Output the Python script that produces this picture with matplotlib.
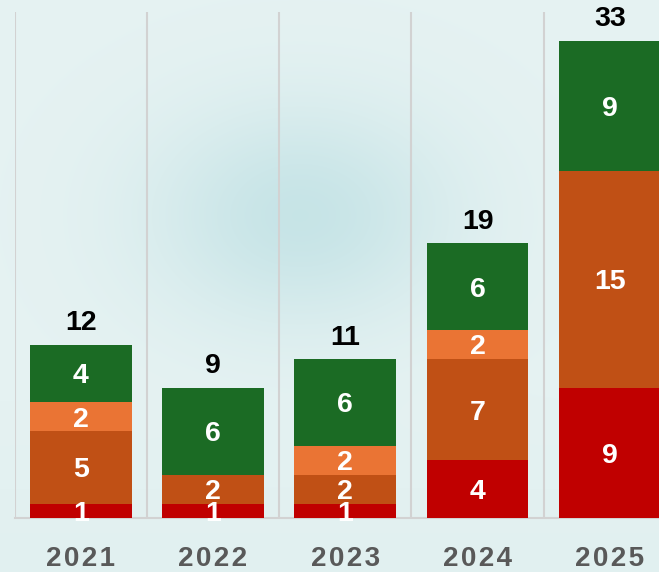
import numpy as np
import matplotlib.pyplot as plt

years = ["2021", "2022", "2023", "2024", "2025"]
red_vals = [1, 1, 1, 4, 9]
darkorange_vals = [5, 2, 2, 7, 15]
orange_vals = [2, 0, 2, 2, 0]
green_vals = [4, 6, 6, 6, 9]
series = [red_vals, darkorange_vals, orange_vals, green_vals]
colors = ["#c00000", "#c05015", "#ea7434", "#1b6b24"]

W, H = 659, 572
fig = plt.figure(figsize=(W / 100, H / 100), dpi=100)

# background
bg = fig.add_axes([0, 0, 1, 1])
yy, xx = np.mgrid[0:H, 0:W]
base = np.array([0.90, 0.95, 0.95])
img = np.ones((H, W, 3)) * base
d = np.sqrt(((xx - 300) / 150.0) ** 2 + ((yy - 215) / 110.0) ** 2)
blob = np.exp(-d ** 2)
tint = np.array([0.66, 0.84, 0.86])
img = img * (1 - 0.5 * blob[..., None]) + tint * 0.5 * blob[..., None]
bot = np.clip((yy - 380) / 200.0, 0, 1)
img = img * (1 - 0.3 * bot[..., None]) + np.array([0.84, 0.92, 0.92]) * 0.3 * bot[..., None]
bg.imshow(img, extent=[0, W, H, 0], aspect="auto")
bg.set_axis_off()

ax = fig.add_axes([14.5 / W, (H - 518) / H, 661.5 / W, 506 / H])
ax.patch.set_alpha(0)
x = np.arange(len(years))
bottom = np.zeros(len(years))
FS = 20.5
for vals, c in zip(series, colors):
    v = np.array(vals, dtype=float)
    ax.bar(x, v, width=0.77, bottom=bottom, color=c, linewidth=0, zorder=3)
    for xi, b, h in zip(x, bottom, v):
        if h > 0:
            ax.text(xi, b + h / 2 - 0.69, f"{int(h)}", ha="center", va="baseline",
                    color="white", fontsize=FS, fontweight="bold",
                    family="Liberation Sans", zorder=4)
    bottom += v

for xi, t in zip(x, bottom):
    ax.text(xi, t + 1.0, f"{int(t)}", ha="center", va="baseline", color="black",
            fontsize=FS, fontweight="bold", family="Liberation Sans", zorder=4)

ax.set_xlim(-0.5, 4.5)
ax.set_ylim(0, 35)
for gx in np.arange(-0.5, 5.0, 1.0):
    ax.axvline(gx, color="#d2d2d2", lw=1.5, zorder=1)
for s in ["top", "right", "left"]:
    ax.spines[s].set_visible(False)
ax.spines["bottom"].set_color("#d2d2d2")
ax.spines["bottom"].set_linewidth(1.5)
ax.set_yticks([])
ax.set_xticks(x)
spaced = ["\u200a".join(list(y)) for y in years]
ax.set_xticklabels(spaced, fontsize=20, fontweight="bold", color="#595959",
                   family="Liberation Sans")
ax.tick_params(axis="x", length=0, pad=20)

fig.savefig("out.png", dpi=100)
